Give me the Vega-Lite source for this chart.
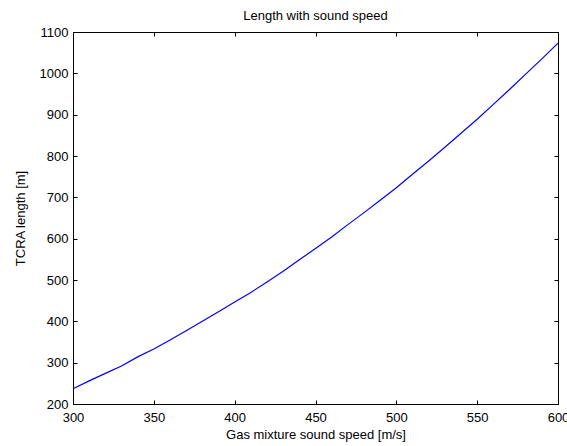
{
  "$schema": "https://vega.github.io/schema/vega-lite/v6.json",
  "width": 485,
  "height": 372,
  "autosize": {"type": "none"},
  "padding": {"left": 73, "top": 32, "right": 9, "bottom": 42},
  "background": "white",
  "title": {
    "text": "Length with sound speed",
    "font": "Liberation Sans",
    "fontSize": 13,
    "fontWeight": "normal",
    "color": "black",
    "anchor": "middle",
    "offset": 3
  },
  "config": {
    "view": {"stroke": "black", "strokeWidth": 1},
    "axis": {
      "domainColor": "black",
      "tickColor": "black",
      "tickWidth": 1,
      "tickSize": -4,
      "grid": false,
      "labelFont": "Liberation Sans",
      "labelFontSize": 13,
      "labelColor": "black",
      "titleFont": "Liberation Sans",
      "titleFontSize": 13,
      "titleFontWeight": "normal",
      "titleColor": "black",
      "labelBound": false,
      "labelFlush": false,
      "labelOverlap": false,
      "format": "d"
    }
  },
  "data": {
    "values": [
      {"speed": 300, "length": 237},
      {"speed": 310, "length": 256},
      {"speed": 320, "length": 274},
      {"speed": 330, "length": 292},
      {"speed": 340, "length": 314},
      {"speed": 350, "length": 333},
      {"speed": 360, "length": 355},
      {"speed": 370, "length": 377},
      {"speed": 380, "length": 400},
      {"speed": 390, "length": 423},
      {"speed": 400, "length": 447},
      {"speed": 410, "length": 470},
      {"speed": 420, "length": 495},
      {"speed": 430, "length": 521},
      {"speed": 440, "length": 549},
      {"speed": 450, "length": 576},
      {"speed": 460, "length": 604},
      {"speed": 470, "length": 634},
      {"speed": 480, "length": 663},
      {"speed": 490, "length": 693},
      {"speed": 500, "length": 723},
      {"speed": 510, "length": 756},
      {"speed": 520, "length": 788},
      {"speed": 530, "length": 821},
      {"speed": 540, "length": 855},
      {"speed": 550, "length": 889},
      {"speed": 560, "length": 925},
      {"speed": 570, "length": 961},
      {"speed": 580, "length": 998},
      {"speed": 590, "length": 1035},
      {"speed": 600, "length": 1073}
    ]
  },
  "layer": [
    {
      "mark": {"type": "line", "color": "#0000ff", "strokeWidth": 1.2},
      "encoding": {
        "x": {
          "field": "speed",
          "type": "quantitative",
          "scale": {"domain": [300, 600], "nice": false, "zero": false},
          "axis": {
            "orient": "bottom",
            "title": "Gas mixture sound speed [m/s]",
            "values": [300, 350, 400, 450, 500, 550, 600],
            "labelPadding": 11,
            "titlePadding": 4
          }
        },
        "y": {
          "field": "length",
          "type": "quantitative",
          "scale": {"domain": [200, 1100], "nice": false, "zero": false},
          "axis": {
            "orient": "left",
            "title": "TCRA length [m]",
            "values": [200, 300, 400, 500, 600, 700, 800, 900, 1000, 1100],
            "labelPadding": 9,
            "titlePadding": 12
          }
        }
      }
    },
    {
      "mark": {"type": "line", "opacity": 0},
      "encoding": {
        "x": {
          "field": "speed",
          "type": "quantitative",
          "axis": {
            "orient": "top",
            "title": null,
            "labels": false,
            "values": [300, 350, 400, 450, 500, 550, 600]
          }
        },
        "y": {
          "field": "length",
          "type": "quantitative",
          "axis": {
            "orient": "right",
            "title": null,
            "labels": false,
            "values": [200, 300, 400, 500, 600, 700, 800, 900, 1000, 1100]
          }
        }
      }
    }
  ],
  "resolve": {"axis": {"x": "independent", "y": "independent"}}
}
